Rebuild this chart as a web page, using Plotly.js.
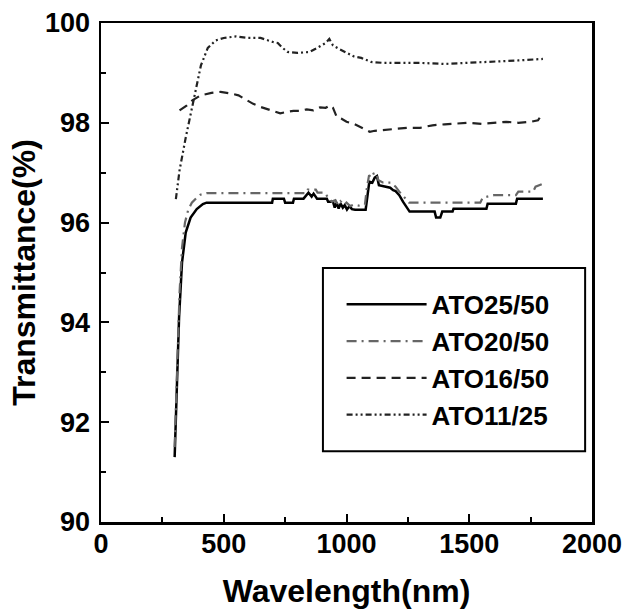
<!DOCTYPE html>
<html>
<head>
<meta charset="utf-8">
<script src="https://cdn.plot.ly/plotly-3.0.1.min.js"></script>
<style>html,body{margin:0;padding:0;background:#fff;}#chart{width:638px;height:613px;}</style>
</head>
<body>
<div id="chart"></div>
<script>
// Series names
var seriesNames = ["ATO25/50", "ATO20/50", "ATO16/50", "ATO11/25"];

// ATO25/50 (solid black)
var wl_25 = [300,305,310,318,330,345,365,390,415,430,697,700,745,750,782,786,825,838,845,858,866,880,920,925,945,952,960,968,976,985,993,1002,1012,1022,1035,1078,1086,1093,1105,1115,1124,1132,1178,1190,1200,1215,1230,1245,1257,1359,1365,1382,1390,1432,1436,1570,1575,1690,1695,1800];
var t_25 = [91.3,92.0,92.8,94.1,95.2,95.8,96.1,96.27,96.37,96.4,96.4,96.48,96.48,96.4,96.4,96.48,96.48,96.55,96.6,96.52,96.58,96.48,96.48,96.42,96.42,96.3,96.4,96.28,96.38,96.3,96.35,96.26,96.33,96.27,96.26,96.26,96.6,96.82,96.8,96.9,96.93,96.75,96.7,96.65,96.63,96.55,96.42,96.3,96.22,96.22,96.1,96.1,96.22,96.22,96.28,96.28,96.38,96.38,96.48,96.48];

// ATO20/50 (grey dash-dot)
var wl_20 = [300,305,312,320,330,342,355,370,390,405,430,835,842,875,882,912,925,940,955,965,975,990,1000,1015,1030,1050,1075,1083,1092,1100,1110,1120,1130,1150,1180,1200,1215,1235,1255,1545,1555,1600,1690,1700,1760,1770,1800];
var t_20 = [91.5,92.3,93.5,94.6,95.5,96.0,96.25,96.4,96.5,96.56,96.59,96.59,96.66,96.66,96.6,96.6,96.5,96.42,96.45,96.36,96.43,96.35,96.4,96.33,96.36,96.34,96.36,96.7,96.95,96.9,96.98,97.0,96.85,96.8,96.8,96.72,96.62,96.5,96.4,96.4,96.5,96.55,96.55,96.62,96.62,96.72,96.78];

// ATO16/50 (dashed)
var wl_16 = [320,335,350,372,390,406,450,487,527,560,595,620,649,690,730,760,784,810,838,865,892,915,933,945,960,980,1000,1030,1055,1075,1095,1115,1136,1170,1203,1250,1300,1350,1400,1450,1500,1550,1600,1650,1700,1750,1780,1800];
var t_16 = [98.25,98.3,98.35,98.45,98.5,98.55,98.6,98.62,98.59,98.55,98.45,98.38,98.32,98.25,98.19,98.22,98.24,98.24,98.27,98.25,98.31,98.3,98.35,98.3,98.12,98.08,98.02,97.98,97.92,97.88,97.82,97.84,97.85,97.87,97.89,97.9,97.9,97.95,97.97,97.98,98.0,97.98,98.0,98.02,98.0,98.02,98.05,98.2];

// ATO11/25 (dash-dot-dot)
var wl_11 = [305,320,345,380,407,435,467,500,550,600,650,700,720,740,760,800,850,880,900,915,930,945,970,1000,1030,1060,1100,1150,1200,1300,1400,1500,1600,1700,1800];
var t_11 = [96.47,97.05,97.7,98.5,99.15,99.5,99.65,99.7,99.73,99.7,99.7,99.62,99.6,99.5,99.42,99.4,99.42,99.5,99.55,99.6,99.68,99.55,99.48,99.4,99.33,99.3,99.22,99.2,99.2,99.2,99.18,99.2,99.22,99.25,99.28];

var xTicks = [0, 500, 1000, 1500, 2000];
var yTicks = [90, 92, 94, 96, 98, 100];

var FONT = "Liberation Sans, Arial, sans-serif";

var traces = [
  {x: wl_25, y: t_25, name: seriesNames[0], mode: "lines",
   line: {color: "#000000", width: 2.5, dash: "solid"}},
  {x: wl_20, y: t_20, name: seriesNames[1], mode: "lines",
   line: {color: "#666666", width: 2.2, dash: "10px,5px,2px,5px"}},
  {x: wl_16, y: t_16, name: seriesNames[2], mode: "lines",
   line: {color: "#222222", width: 2.2, dash: "9px,6px"}},
  {x: wl_11, y: t_11, name: seriesNames[3], mode: "lines",
   line: {color: "#222222", width: 2.2, dash: "6px,3px,2px,3px,2px,3px"}}
];

var axisCommon = {
  showgrid: false, zeroline: false,
  showline: true, linecolor: "#000", linewidth: 2.5, mirror: true,
  ticks: "inside", ticklen: 8, tickwidth: 2, tickcolor: "#000",
  tickfont: {family: FONT, size: 27, color: "#000", weight: "bold"}
};

var layout = {
  width: 638, height: 613,
  margin: {l: 101, r: 46, t: 23, b: 91},
  paper_bgcolor: "#fff", plot_bgcolor: "#fff",
  showlegend: true,
  xaxis: Object.assign({}, axisCommon, {
    range: [0, 2000], tickvals: xTicks, ticktext: xTicks.map(String),
    minor: {ticks: "inside", dtick: 250, tick0: 0, ticklen: 5, tickwidth: 2, tickcolor: "#000"},
    ticklabelstandoff: -4,
    title: {text: "<b>Wavelength(nm)</b>", font: {family: FONT, size: 32, color: "#000"}, standoff: 22}
  }),
  yaxis: Object.assign({}, axisCommon, {
    range: [90, 100], tickvals: yTicks, ticktext: yTicks.map(String),
    minor: {ticks: "inside", dtick: 1, tick0: 90, ticklen: 5, tickwidth: 2, tickcolor: "#000"},
    ticklabelstandoff: 3,
    title: {text: "<b>Transmittance(%)</b>", font: {family: FONT, size: 32, color: "#000"}, standoff: 0}
  }),
  legend: {
    x: 0.49, y: 0.325, xanchor: "left", yanchor: "middle",
    bgcolor: "rgba(0,0,0,0)", borderwidth: 0,
    font: {family: FONT, size: 26, color: "#000", weight: "bold"},
    itemwidth: 80
  },
  shapes: [
    {type: "rect", xref: "paper", yref: "paper", x0: 0.452, x1: 0.986, y0: 0.142, y1: 0.509,
     line: {color: "#000", width: 2}, fillcolor: "rgba(0,0,0,0)", layer: "below"}
  ]
};

Plotly.newPlot("chart", traces, layout, {displayModeBar: false, staticPlot: true});
</script>
</body>
</html>
